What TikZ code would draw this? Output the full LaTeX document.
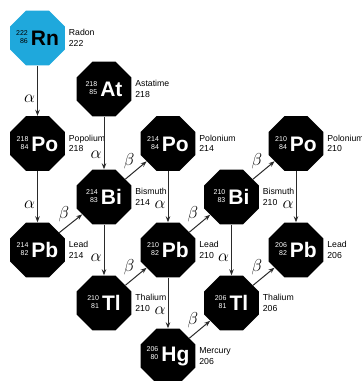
\documentclass[tikz,border=0pt]{standalone}
\usepackage{fontspec}
\setmainfont{Liberation Sans}
\usetikzlibrary{shapes.geometric,arrows.meta}
\definecolor{radon}{HTML}{1FA8DC}
\definecolor{linec}{HTML}{2A2A2A}
\newcommand{\isonum}[2]{\raisebox{5.8pt}{\fontsize{7}{8}\selectfont\mdseries\begin{tabular}[c]{@{}r@{}}#1\\#2\end{tabular}}}
\begin{document}
\begin{tikzpicture}[x=1pt,y=-1pt,
  octa/.style={regular polygon, regular polygon sides=8, minimum size=59.5pt, inner sep=0pt, fill=black, draw=none},
  sym/.style={text=white, font=\fontsize{21}{21}\selectfont\bfseries, inner sep=0pt},
  desc/.style={anchor=west, align=left, font=\fontsize{8.7}{10.4}\selectfont, inner sep=0pt, xshift=3.5pt},
  decay/.style={draw=linec, line width=1pt, -{Stealth[length=6pt,width=4.5pt]}},
  lab/.style={font=\fontsize{16}{16}\selectfont, inner sep=2pt}
]
\useasboundingbox (0,0) rectangle (362,381);

% nuclides
\node[octa, fill=radon] (rn) at (37.5,38) {};
\node[sym, text=black] (rnt) at (rn) {\isonum{222}{86}\hspace{3pt}Rn};
\node[desc] (rnd) at (rn.east) {Radon\\222};

\node[octa] (at) at (104,89) {};
\node[sym] (att) at (at) {\isonum{218}{85}\hspace{3pt}At};
\node[desc] (atd) at (at.east) {Astatime\\218};

\node[octa] (po218) at (37.5,143.5) {};
\node[sym] (po218t) at (po218) {\isonum{218}{84}\hspace{3pt}Po};
\node[desc] (po218d) at (po218.east) {Popolium\\218};

\node[octa] (bi214) at (104,197) {};
\node[sym] (bi214t) at (bi214) {\isonum{214}{83}\hspace{3pt}Bi};
\node[desc] (bi214d) at (bi214.east) {Bismuth\\214};

\node[octa] (po214) at (168,143.5) {};
\node[sym] (po214t) at (po214) {\isonum{214}{84}\hspace{3pt}Po};
\node[desc] (po214d) at (po214.east) {Polonium\\214};

\node[octa] (pb214) at (37.5,250) {};
\node[sym] (pb214t) at (pb214) {\isonum{214}{82}\hspace{3pt}Pb};
\node[desc] (pb214d) at (pb214.east) {Lead\\214};

\node[octa] (pb210) at (168,250) {};
\node[sym] (pb210t) at (pb210) {\isonum{210}{82}\hspace{3pt}Pb};
\node[desc] (pb210d) at (pb210.east) {Lead\\210};

\node[octa] (tl210) at (104,303) {};
\node[sym] (tl210t) at (tl210) {\isonum{210}{81}\hspace{3pt}Tl};
\node[desc] (tl210d) at (tl210.east) {Thalium\\210};

\node[octa] (hg) at (168,356) {};
\node[sym] (hgt) at (hg) {\isonum{206}{80}\hspace{3pt}Hg};
\node[desc] (hgd) at (hg.east) {Mercury\\206};

\node[octa] (bi210) at (231.5,197) {};
\node[sym] (bi210t) at (bi210) {\isonum{210}{83}\hspace{3pt}Bi};
\node[desc] (bi210d) at (bi210.east) {Bismuth\\210};

\node[octa] (po210) at (296,143.5) {};
\node[sym] (po210t) at (po210) {\isonum{210}{84}\hspace{3pt}Po};
\node[desc] (po210d) at (po210.east) {Polonium\\210};

\node[octa] (pb206) at (296,250) {};
\node[sym] (pb206t) at (pb206) {\isonum{206}{82}\hspace{3pt}Pb};
\node[desc] (pb206d) at (pb206.east) {Lead\\206};

\node[octa] (tl206) at (231.5,303) {};
\node[sym] (tl206t) at (tl206) {\isonum{206}{81}\hspace{3pt}Tl};
\node[desc] (tl206d) at (tl206.east) {Thalium\\206};

% alpha decays
\draw[decay] (rn) -- node[lab, left, pos=0.66] {$\alpha$} (po218);
\draw[decay] (at) -- node[lab, left, pos=0.72] {$\alpha$} (bi214);
\draw[decay] (po218) -- node[lab, left, pos=0.66] {$\alpha$} (pb214);
\draw[decay] (bi214) -- node[lab, left, pos=0.66] {$\alpha$} (tl210);
\draw[decay] (po214) -- node[lab, left, pos=0.66] {$\alpha$} (pb210);
\draw[decay] (pb210) -- node[lab, left, pos=0.66] {$\alpha$} (hg);
\draw[decay] (bi210) -- node[lab, left, pos=0.66] {$\alpha$} (tl206);
\draw[decay] (po210) -- node[lab, left, pos=0.66] {$\alpha$} (pb206);

% beta decays
\draw[decay] (pb214) -- node[lab, above left, pos=0.5, inner sep=1pt] {$\beta$} (bi214);
\draw[decay] (bi214) -- node[lab, above left, pos=0.5, inner sep=1pt] {$\beta$} (po214);
\draw[decay] (tl210) -- node[lab, above left, pos=0.5, inner sep=1pt] {$\beta$} (pb210);
\draw[decay] (pb210) -- node[lab, above left, pos=0.5, inner sep=1pt] {$\beta$} (bi210);
\draw[decay] (hg) -- node[lab, above left, pos=0.5, inner sep=1pt] {$\beta$} (tl206);
\draw[decay] (bi210) -- node[lab, above left, pos=0.5, inner sep=1pt] {$\beta$} (po210);
\draw[decay] (tl206) -- node[lab, above left, pos=0.5, inner sep=1pt] {$\beta$} (pb206);
\end{tikzpicture}
\end{document}
